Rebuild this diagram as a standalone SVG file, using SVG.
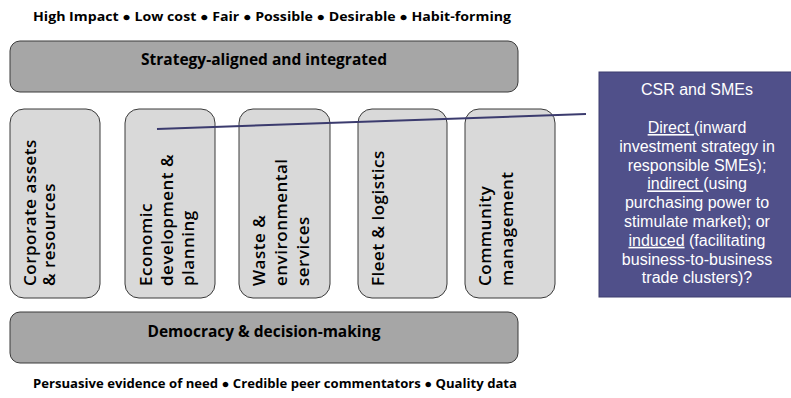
<svg xmlns="http://www.w3.org/2000/svg" width="791" height="398" viewBox="0 0 791 398">
<style>
.cap{font-family:"Open Sans","Liberation Sans",sans-serif;font-weight:700;font-size:12.5px;fill:#000}
.bar{fill:#a6a6a6;stroke:#3a3a3a;stroke-width:1}
.barT{font-family:"Open Sans","Liberation Sans",sans-serif;font-weight:700;font-size:15.5px;fill:#000;text-anchor:middle}
.col{fill:#d9d9d9;stroke:#3a3a3a;stroke-width:1}
.colT{font-family:"Open Sans","Liberation Sans",sans-serif;font-weight:600;font-size:17px;letter-spacing:0.5px;fill:#000}
.box{fill:#50508a;stroke:#3d3d6e;stroke-width:1}
.boxT{font-family:"Liberation Sans",Arial,sans-serif;font-size:16px;fill:#fff;text-anchor:middle}
.u{text-decoration:underline}
.link{stroke:#3b3b6e;stroke-width:2;fill:none}
</style>
<text class="cap" x="33" y="21" textLength="478" lengthAdjust="spacingAndGlyphs">High Impact ● Low cost  ● Fair ● Possible ● Desirable ● Habit-forming</text>
<g id="strategy">
<rect class="bar" x="10" y="41" width="508" height="51" rx="10"/>
<text class="barT" x="264" y="65">Strategy-aligned and integrated</text>
</g>
<g id="corporate">
<rect class="col" x="10" y="109" width="90" height="189" rx="14"/>
<text class="colT" transform="translate(36,286) rotate(-90)"><tspan x="0" y="0">Corporate assets</tspan><tspan x="0" y="19">&amp; resources</tspan></text>
</g>
<g id="economic">
<rect class="col" x="125" y="109" width="90" height="189" rx="14"/>
<text class="colT" transform="translate(152,286) rotate(-90)"><tspan x="0" y="0">Economic</tspan><tspan x="0" y="21">development &amp;</tspan><tspan x="0" y="42">planning</tspan></text>
</g>
<g id="waste">
<rect class="col" x="239" y="109" width="91" height="189" rx="14"/>
<text class="colT" transform="translate(265,286) rotate(-90)"><tspan x="0" y="0">Waste &amp;</tspan><tspan x="0" y="22">environmental</tspan><tspan x="0" y="44">services</tspan></text>
</g>
<g id="fleet">
<rect class="col" x="358" y="109" width="89" height="189" rx="14"/>
<text class="colT" transform="translate(384,286) rotate(-90)"><tspan x="0" y="0">Fleet &amp; logistics</tspan></text>
</g>
<g id="community">
<rect class="col" x="465" y="109" width="90" height="189" rx="14"/>
<text class="colT" transform="translate(491,286) rotate(-90)"><tspan x="0" y="0">Community</tspan><tspan x="0" y="22">management</tspan></text>
</g>
<g id="democracy">
<rect class="bar" x="10" y="312" width="508" height="51" rx="10"/>
<text class="barT" x="264" y="337">Democracy &amp; decision-making</text>
</g>
<text class="cap" x="33" y="388" textLength="484" lengthAdjust="spacingAndGlyphs">Persuasive evidence of need ● Credible peer commentators ● Quality data</text>
<g id="csr">
<rect class="box" x="599" y="72" width="193" height="225"/>
<text class="boxT" x="697" y="95">CSR and SMEs</text>
<text class="boxT"><tspan x="697" y="133"><tspan class="u">Direct </tspan>(inward</tspan><tspan x="697" y="151.8">investment strategy in</tspan><tspan x="697" y="170.6">responsible SMEs);</tspan><tspan x="697" y="189.4"><tspan class="u">indirect </tspan>(using</tspan><tspan x="697" y="208.2">purchasing power to</tspan><tspan x="697" y="227">stimulate market); or</tspan><tspan x="697" y="245.8"><tspan class="u">induced</tspan> (facilitating</tspan><tspan x="697" y="264.6">business-to-business</tspan><tspan x="697" y="283.4">trade clusters)?</tspan></text>
</g>
<g id="connectors">
<line class="link" x1="157" y1="129" x2="586" y2="114"/>
</g>
</svg>
